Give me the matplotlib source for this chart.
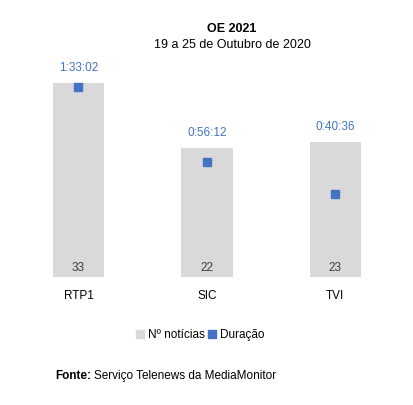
import matplotlib
matplotlib.use("Agg")
import matplotlib.pyplot as plt
from matplotlib.lines import Line2D
from matplotlib.patches import Patch

canais = ["RTP1", "SIC", "TVI"]
noticias = [33, 22, 23]
duracao_txt = ["1:33:02", "0:56:12", "0:40:36"]


def para_segundos(t):
    h, m, s = (int(p) for p in t.split(":"))
    return h * 3600 + m * 60 + s


duracao = [para_segundos(t) for t in duracao_txt]

cinza = "#D9D9D9"
azul = "#4472C4"

plt.rcParams["font.family"] = ["Liberation Sans", "DejaVu Sans"]

fig = plt.figure(figsize=(4.13, 4.05), dpi=100)
ax = fig.add_axes([0.0345, 0.316, 0.933, 0.580])
ax2 = ax.twinx()

x = range(len(canais))
ax.bar(x, noticias, width=0.4, color=cinza)
ax2.plot(x, duracao, linestyle="none", marker="s", markersize=5.2, color=azul)

ax.set_xlim(-0.5, 2.5)
ax.set_ylim(0, 40)
ax2.set_ylim(0, 6904)

for i, n in enumerate(noticias):
    ax.text(i, 1.5, str(n), ha="center", va="center", fontsize=8.5, color="#404040")
    ax.annotate(duracao_txt[i], (i, n), xytext=(0, 6.5), textcoords="offset points",
                ha="center", va="bottom", fontsize=8.5, color=azul)

ax.set_xticks(list(x))
ax.set_xticklabels(canais, fontsize=8.5)
ax.tick_params(axis="x", length=0, pad=9)
ax.set_yticks([])
ax2.set_yticks([])
for a in (ax, ax2):
    for s in a.spines.values():
        s.set_visible(False)

fig.text(0.562, 0.929, "OE 2021", ha="center", va="center", fontsize=9, fontweight="bold")
fig.text(0.562, 0.889, "19 a 25 de Outubro de 2020", ha="center", va="center", fontsize=9)

handles = [Patch(color=cinza, label="Nº notícias"),
           Line2D([], [], linestyle="none", marker="s", markersize=6, color=azul, label="Duração")]
fig.legend(handles=handles, loc="center", bbox_to_anchor=(0.485, 0.173), ncol=2,
           frameon=False, fontsize=8.5, handlelength=0.7, handletextpad=0.3, columnspacing=0.3)

fonte = fig.text(0.133, 0.072, "Fonte:", fontsize=8.5, fontweight="bold", va="center")
fig.canvas.draw()
bb = fonte.get_window_extent().transformed(fig.transFigure.inverted())
fig.text(bb.x1 + 0.008, 0.072, "Serviço Telenews da MediaMonitor", fontsize=8.5, va="center")

fig.savefig("out.png", dpi=100)
